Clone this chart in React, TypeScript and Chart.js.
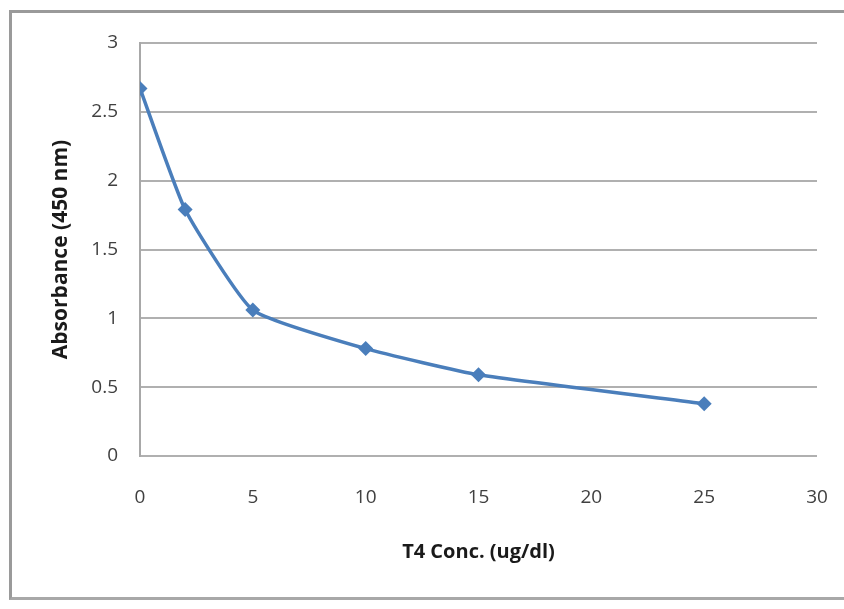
import React, { useEffect, useRef } from "react";
import { Chart, registerables } from "chart.js";

Chart.register(...registerables);

const concentrations = [0, 2, 5, 10, 15, 25];
const absorbance = [2.67, 1.79, 1.06, 0.78, 0.59, 0.38];
const xTitle = "T4 Conc. (ug/dl)";
const yTitle = "Absorbance (450 nm)";

export default function App() {
  const ref = useRef<HTMLCanvasElement>(null);
  useEffect(() => {
    if (!ref.current) return;
    const chart = new Chart(ref.current, {
      type: "scatter",
      data: {
        datasets: [
          {
            data: concentrations.map((x, i) => ({ x, y: absorbance[i] })),
            showLine: true,
            borderColor: "#4a7ebb",
            backgroundColor: "#4a7ebb",
            borderWidth: 3.5,
            tension: 0.15,
            pointStyle: "rectRot",
            pointRadius: 7.5,
            pointBorderWidth: 0,
          },
        ],
      },
      options: {
        animation: false,
        responsive: false,
        layout: { autoPadding: false, padding: { top: 30, right: 24, left: 0, bottom: 0 } },
        plugins: { legend: { display: false }, tooltip: { enabled: false } },
        scales: {
          x: {
            type: "linear",
            min: 0,
            max: 30,
            afterFit: (s: any) => {
              s.height = 140;
              s.paddingLeft = 0;
              s.paddingRight = 0;
            },
            ticks: {
              stepSize: 5,
              padding: 30,
              color: "#404040",
              font: { family: "Open Sans", size: 19 },
            },
            grid: { display: false, drawTicks: false },
            border: { display: false },
            title: {
              display: true,
              text: xTitle,
              color: "#1a1a1a",
              font: { family: "Open Sans", size: 20, weight: "bold" },
              padding: { top: 0, bottom: 32 },
            },
          },
          y: {
            min: 0,
            max: 3,
            afterFit: (s: any) => {
              s.width = 128;
              s.paddingTop = 0;
              s.paddingBottom = 0;
            },
            ticks: {
              stepSize: 0.5,
              padding: 22,
              color: "#404040",
              font: { family: "Open Sans", size: 19 },
              callback: (v: any) => String(Number(v)),
            },
            grid: { color: "#b0b0b0", lineWidth: 2, drawTicks: false },
            border: { display: true, color: "#a8a8a8", width: 2 },
            title: {
              display: true,
              text: yTitle,
              color: "#1a1a1a",
              font: { family: "Open Sans", size: 21, weight: "bold" },
              padding: { top: 36, bottom: 0 },
            },
          },
        },
      },
    });
    return () => chart.destroy();
  }, []);
  return (
    <div
      style={{
        position: "absolute",
        left: 9,
        top: 10,
        width: 832,
        height: 584,
        borderTop: "3px solid #9a9a9a",
        borderLeft: "3px solid #9a9a9a",
        borderBottom: "3px solid #a8a8a8",
        borderRight: "1px solid #dddddd",
        background: "#fff",
      }}
    >
      <canvas ref={ref} width={829} height={583} style={{ display: "block" }} />
    </div>
  );
}
